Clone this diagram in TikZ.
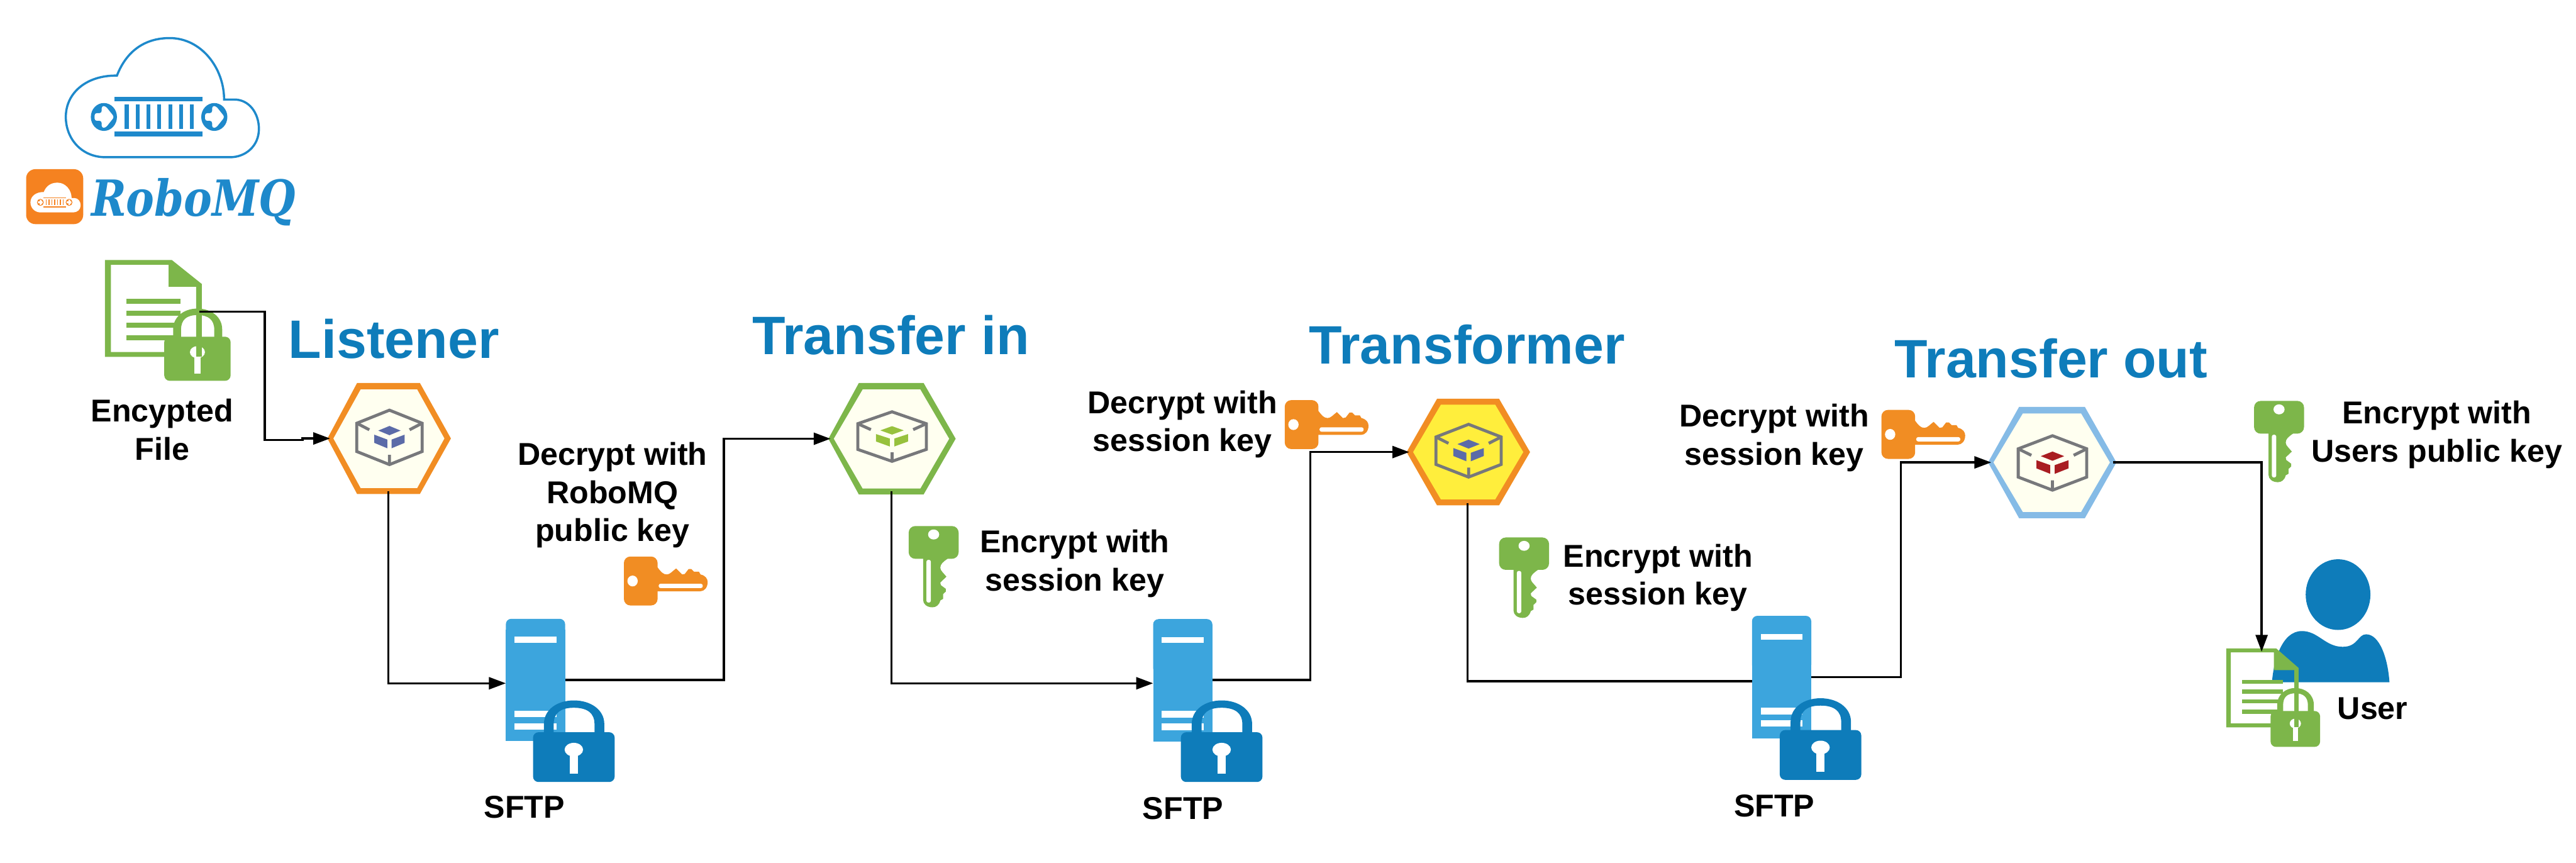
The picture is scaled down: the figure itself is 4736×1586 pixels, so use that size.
\documentclass[tikz,border=0pt]{standalone}
\usepackage{fontspec}
\usepackage{graphicx}
\setmainfont{Liberation Sans}
\newfontfamily\logofont{DejaVu Serif}
\usetikzlibrary{arrows.meta}
\definecolor{titleblue}{HTML}{0E7CBA}
\definecolor{logoblue}{HTML}{1E89CB}
\definecolor{tileorange}{HTML}{F58220}
\definecolor{hexorange}{HTML}{F18D23}
\definecolor{keyorange}{HTML}{F18D23}
\definecolor{docgreen}{HTML}{7DB64A}
\definecolor{hexblue}{HTML}{85BBE6}
\definecolor{paleyellow}{HTML}{FFFFF0}
\definecolor{brightyellow}{HTML}{FFEE3C}
\definecolor{srvblue}{HTML}{3CA5DD}
\definecolor{cubegrey}{HTML}{77787B}
\definecolor{cubeblue}{HTML}{5B6BA8}
\definecolor{cubegreen}{HTML}{97C13D}
\definecolor{cubered}{HTML}{A91D22}
\newcommand{\lockshape}[1]{%
    \fill[#1,even odd rule] (20,1) -- (20,-15) .. controls (20,-42) and (45,-58.5) .. (75,-58.5)
      .. controls (105,-58.5) and (131,-42) .. (131,-15) -- (131,1) -- (113,1) -- (113,-15)
      .. controls (113,-35) and (100,-45) .. (75,-45) .. controls (50,-45) and (38,-35) .. (38,-15) -- (38,1) -- cycle;
    \fill[#1,rounded corners=.1cm] (0,0) rectangle (150,91.5);
    \fill[white] (75,32) circle [x radius=17,y radius=12.5];
    \fill[white] (67.5,35) rectangle (82.5,76.5);
}
\tikzset{
  titletext/.style={font=\fontsize{28.3}{32}\selectfont\bfseries,text=titleblue,inner sep=0pt,anchor=base},
  labeltext/.style={font=\fontsize{16.5}{19.9}\selectfont\bfseries,text=black,inner sep=0pt,align=center,anchor=center},
  anchorbox/.style={inner sep=0pt,outer sep=0pt,rectangle},
  conn/.style={draw=black,line width=.04cm,line join=miter},
  arrowconn/.style={conn,-{Triangle[length=.31cm,width=.22cm]}},
  pics/cloudlogo/.style n args={3}{code={
    \path[#1] (-104,74) .. controls (-148,74) and (-177,40) .. (-177,0)
      .. controls (-177,-45) and (-138,-77) .. (-83,-76)
      .. controls (-66,-120) and (-33,-145) .. (14,-145)
      .. controls (72,-145) and (114,-90) .. (114,-32) -- (133,-32)
      .. controls (160,-32) and (178,-7) .. (178,22)
      .. controls (178,53) and (154,74) .. (125,74) -- cycle;
    \fill[#2] (-87,-37) rectangle (74,-29);
    \fill[#2] (-87,27) rectangle (74,36);
    \foreach \bx in {-65,-45,-25,-5,15,35,55} {\fill[#2] (\bx-3.5,-23) rectangle (\bx+3.5,22);}
    \foreach \cx in {-107,96} {
      \fill[#2] (\cx,0) circle [x radius=24,y radius=25.6];
      \fill[white,rounded corners=#3] (\cx-17,-7) -- (\cx-4,-7) -- (\cx-4,-20) -- (\cx+3,-20) -- (\cx+19,0) -- (\cx+3,20) -- (\cx-4,20) -- (\cx-4,7) -- (\cx-17,7) -- cycle;
    }
  }},
  pics/lockicon/.style={code={\lockshape{#1}}},
  pics/securefile/.style={code={
    \fill[#1,even odd rule] (0,0) -- (123,0) -- (178,44) -- (178,178) -- (0,178) -- cycle
      (11,8.7) -- (117,8.7) -- (117,49) -- (167.6,49) -- (167.6,169) -- (11,169) -- cycle;
    \fill[#1] (39,71) rectangle (139,80);
    \fill[#1] (39,93) rectangle (139,102);
    \fill[#1] (39,115) rectangle (127,124);
    \fill[#1] (39,138) rectangle (127,147);
    \begin{scope}[shift={(109,141)},xscale=.813,yscale=.885]\lockshape{#1}\end{scope}
    \fill[#1] (167.6,49) rectangle (178,178);
  }},
  pics/keyicon/.style={code={
    \fill[#1,rounded corners=.12cm] (0,-45) rectangle (62,45);
    \fill[#1] (60,-25) -- (62,-25) .. controls (68,-17) and (72,-12) .. (79,-12)
      .. controls (85,-12) and (90,-19) .. (96,-23) -- (107,-12) -- (112,-13) -- (119,-22) -- (124,-22)
      -- (129,-17) -- (138,-17) -- (141,-12) .. controls (150,-10) and (154,-4) .. (154,2)
      .. controls (154,12) and (148,19) .. (140,19) -- (60,19) -- cycle;
    \fill[white] (16,0) circle [x radius=9.5,y radius=10];
    \fill[white,rounded corners=.035cm] (64,5) rectangle (145,13);
  }},
  pics/cubeicon/.style={code={
    \draw[cubegrey,line width=.055cm,line join=miter] (0,-50) -- (60,-26) -- (60,26) -- (0,50) -- (-60,26) -- (-60,-26) -- cycle;
    \draw[cubegrey,line width=.055cm] (-60,-26) -- (-37,-14) (60,-26) -- (37,-14) (0,50) -- (0,32);
    \fill[#1] (0,-21) -- (20.5,-12.5) -- (0,-4) -- (-20.5,-12.5) -- cycle;
    \fill[#1] (-28,-5) -- (-4,4) -- (-4,20) -- (-28,10) -- cycle;
    \fill[#1] (28,-5) -- (4,4) -- (4,20) -- (28,10) -- cycle;
  }},
  pics/serverbody/.style={code={
    \fill[srvblue,rounded corners=.1cm] (0,100) -- (0,0) -- (109,0) -- (109,100) -- cycle;
    \fill[srvblue] (0,20) rectangle (109,225);
    \fill[white] (16,33) rectangle (93,44);
    \fill[white] (16,169) rectangle (93,181);
    \fill[white] (16,192) rectangle (93,204);
  }}
}
\begin{document}
\begin{tikzpicture}[x=.01cm,y=-.01cm]
\useasboundingbox (0,0) rectangle (4736,1586);
% logo
\pic at (298,215) {cloudlogo={draw=logoblue,line width=.04cm,fill=white}{logoblue}{.04cm}};
\fill[tileorange,rounded corners=.17cm] (48,311) rectangle (153,412);
\pic[xscale=.26,yscale=.25] at (102,372) {cloudlogo={fill=white}{tileorange}{.005cm}};
\node[inner sep=0pt,anchor=base west,text=logoblue] (robomq) at (167,397) {\scalebox{.85}[1]{\logofont\fontsize{26}{30}\selectfont\bfseries\itshape RoboMQ}};
% source file
\pic at (193,478) {securefile=docgreen};
\coordinate (srcfile) at (367,573);
\node[labeltext] (enc) at (298,790) {Encypted\\File};
% hexagons
\begin{scope}[shift={(716,806)}]
\fill[hexorange] (-114,0) -- (-59.5,-102) -- (56,-102) -- (113,0) -- (56,102) -- (-59.5,102) -- cycle;
\fill[paleyellow] (-103,0) -- (-53,-90) -- (51,-90) -- (101,0) -- (51,91) -- (-53,91) -- cycle;
\pic at (0,-2) {cubeicon=cubeblue};
\end{scope}
\node[anchorbox,minimum width=2.14cm,minimum height=1.94cm] (listener) at (714,806) {};
\begin{scope}[shift={(1640,806.5)}]
\fill[docgreen] (-117,0) -- (-61,-102.5) -- (58,-102.5) -- (117,0) -- (58,102.5) -- (-61,102.5) -- cycle;
\fill[paleyellow] (-107,0) -- (-54,-90.5) -- (52,-90.5) -- (105,0) -- (52,91.5) -- (-54,91.5) -- cycle;
\pic[xscale=1.05,yscale=.91] at (0,-4) {cubeicon=cubegreen};
\end{scope}
\node[anchorbox,minimum width=2.24cm,minimum height=1.93cm] (transin) at (1639,806.5) {};
\begin{scope}[shift={(2700,831)}]
\fill[hexorange] (-114,0) -- (-58,-98) -- (56,-98) -- (113,0) -- (56,98) -- (-58,98) -- cycle;
\fill[brightyellow] (-102,0) -- (-51,-87) -- (49,-87) -- (100.5,0) -- (49,87) -- (-51,87) -- cycle;
\pic[yscale=.97] at (0,-2.5) {cubeicon=cubeblue};
\end{scope}
\node[anchorbox,minimum width=2.14cm,minimum height=1.88cm] (transformer) at (2698,831) {};
\begin{scope}[shift={(3773,850)}]
\fill[hexblue] (-118,0) -- (-61,-102) -- (60,-102) -- (118,0) -- (60,102.5) -- (-61,102.5) -- cycle;
\fill[paleyellow] (-108,0) -- (-54,-90) -- (53,-90) -- (106,0) -- (53,91) -- (-54,91) -- cycle;
\pic[xscale=1.05] at (.5,1) {cubeicon=cubered};
\end{scope}
\node[anchorbox,minimum width=2.24cm,minimum height=1.9cm] (transout) at (3773,850) {};
% titles
\node[titletext] (tlisten) at (724,658) {Listener};
\node[titletext] (ttin) at (1638,652) {Transfer in};
\node[titletext] (ttrans) at (2697,669) {Transformer};
\node[titletext] (ttout) at (3771,694) {Transfer out};
% servers
\pic at (930,1137.5) {serverbody};
\node[anchorbox,minimum width=1.09cm,minimum height=2.25cm] (srvone) at (984.5,1250) {};
\pic at (980,1346) {lockicon=titleblue};
\pic at (2120,1138) {serverbody};
\node[anchorbox,minimum width=1.09cm,minimum height=2.25cm] (srvtwo) at (2174.5,1250) {};
\pic at (2171,1346) {lockicon=titleblue};
\pic at (3221,1132) {serverbody};
\node[anchorbox,minimum width=1.09cm,minimum height=2.25cm] (srvthree) at (3275.5,1245) {};
\pic at (3272,1342) {lockicon=titleblue};
\node[labeltext] (sftpa) at (964,1484) {SFTP};
\node[labeltext] (sftpb) at (2175,1486) {SFTP};
\node[labeltext] (sftpc) at (3262,1481) {SFTP};
% keys
\pic at (1147,1068) {keyicon=keyorange};
\pic at (2362,780.5) {keyicon=keyorange};
\pic at (3459,798.5) {keyicon=keyorange};
\pic[rotate=-90,xscale=.97,yscale=1.02] at (1716.5,967) {keyicon=docgreen};
\pic[rotate=-90,xscale=.96,yscale=1.02] at (2802,988) {keyicon=docgreen};
\pic[rotate=-90,xscale=.97,yscale=1.02] at (4190,737) {keyicon=docgreen};
% labels
\node[labeltext] (la) at (1126,910) {Decrypt with\\RoboMQ\\public key};
\node[labeltext] (lb) at (1976,1036) {Encrypt with\\session key};
\node[labeltext] (lc) at (2174,780) {Decrypt with\\session key};
\node[labeltext] (ld) at (3048,1062) {Encrypt with\\session key};
\node[labeltext] (le) at (3262,805) {Decrypt with\\session key};
\node[labeltext] (lf) at (4480,799) {Encrypt with\\Users public key};
% user
\fill[titleblue] (4298.5,1093) circle [x radius=59.5,y radius=65];
\fill[titleblue] (4177,1254) .. controls (4180,1215) and (4195,1160) .. (4232,1160)
  .. controls (4262,1160) and (4275,1189) .. (4307,1189)
  .. controls (4335,1189) and (4335,1166) .. (4350,1166)
  .. controls (4375,1166) and (4390,1210) .. (4393,1254) -- cycle;
\pic[xscale=.747,yscale=.815] at (4093,1192) {securefile=docgreen};
\coordinate (userfile) at (4158,1198);
\node[labeltext] (luser) at (4362,1303) {User};
% connectors
\draw[arrowconn] (srcfile) -- (487,573) -- (487,809) -- (556,809) -- (556,806) -- (listener.west);
\draw[arrowconn] (listener.south) |- ([yshift=-.06cm]srvone.west);
\draw[arrowconn] (srvone.east) -- (1331,1250) |- (transin.west);
\draw[arrowconn] (transin.south) |- ([yshift=-.06cm]srvtwo.west);
\draw[arrowconn] (srvtwo.east) -- (2409,1250) |- (transformer.west);
\draw[conn] (transformer.south) |- ([yshift=-.07cm]srvthree.west);
\draw[arrowconn] (srvthree.east) -- (3495,1245) |- (transout.west);
\draw[arrowconn] (transout.east) -| (userfile);
\end{tikzpicture}
\end{document}
